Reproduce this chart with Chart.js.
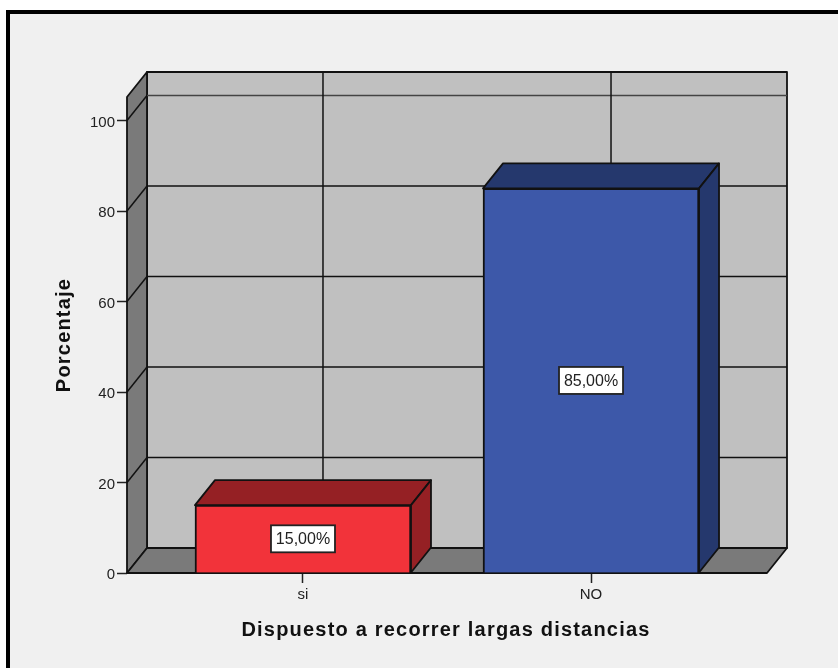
<!DOCTYPE html>
<html lang="es">
<head>
<meta charset="utf-8">
<title>Dispuesto a recorrer largas distancias</title>
<script src="https://cdn.jsdelivr.net/npm/chart.js@4"></script>
<style>
    html, body { margin: 0; padding: 0; background: #fff; overflow: hidden; }
    #frame {
        position: absolute; left: 6px; top: 10px; right: 0; bottom: 0;
        background: #f0f0f0; border-left: 4px solid #000; border-top: 4px solid #000;
    }
    #chart { position: absolute; left: 0; top: 0; }
</style>
</head>
<body>
<div id="frame"></div>
<canvas id="chart" width="838" height="668"></canvas>
<script>
// Chart data
const categories = ['si', 'NO'];
const percentages = [15, 85];
const yTicks = [0, 20, 40, 60, 80, 100];
const xTitle = 'Dispuesto a recorrer largas distancias';
const yTitle = 'Porcentaje';

// Per-bar colours: front face and shaded top/side faces
const barColors = ['#f2333a', '#3d58a9'];
const barShades = ['#952024', '#25386d'];

// Offset of the back of the 3D box
const DEPTH_X = 20;
const DEPTH_Y = 25;

function fillPoly(ctx, points, fill, stroke, lineWidth) {
    ctx.beginPath();
    points.forEach((p, i) => i ? ctx.lineTo(p[0], p[1]) : ctx.moveTo(p[0], p[1]));
    ctx.closePath();
    ctx.fillStyle = fill;
    ctx.fill();
    ctx.strokeStyle = stroke;
    ctx.lineWidth = lineWidth;
    ctx.stroke();
}

function line(ctx, x1, y1, x2, y2, color, lineWidth) {
    ctx.beginPath();
    ctx.moveTo(x1, y1);
    ctx.lineTo(x2, y2);
    ctx.strokeStyle = color;
    ctx.lineWidth = lineWidth;
    ctx.stroke();
}

// Draws the walls, floor and gridlines behind the bars
const boxPlugin = {
    id: 'box3d',
    beforeDatasetsDraw(chart) {
        const { ctx, chartArea: a, scales } = chart;
        const dx = DEPTH_X, dy = DEPTH_Y;
        ctx.save();
        ctx.lineJoin = 'round';

        // Back wall
        fillPoly(ctx, [[a.left + dx, a.top - dy], [a.right + dx, a.top - dy], [a.right + dx, a.bottom - dy], [a.left + dx, a.bottom - dy]], '#c0c0c0', '#111', 1.8);
        // Left wall
        fillPoly(ctx, [[a.left, a.top], [a.left + dx, a.top - dy], [a.left + dx, a.bottom - dy], [a.left, a.bottom]], '#7a7a7a', '#111', 1.8);
        // Floor
        fillPoly(ctx, [[a.left, a.bottom], [a.right, a.bottom], [a.right + dx, a.bottom - dy], [a.left + dx, a.bottom - dy]], '#7a7a7a', '#111', 1.8);

        // Horizontal gridlines, running up the left wall and across the back
        yTicks.forEach(v => {
            if (v === 0) return;
            const y = scales.y.getPixelForValue(v);
            line(ctx, a.left, y, a.left + dx, y - dy, '#111', 1.5);
            line(ctx, a.left + dx, y - dy, a.right + dx, y - dy, v === 100 ? '#444' : '#111', 1.5);
        });

        // Vertical gridlines on the back wall
        categories.forEach((c, i) => {
            const x = scales.x.getPixelForValue(i) + dx;
            line(ctx, x, a.top - dy, x, a.bottom - dy, '#111', 1.5);
        });

        // Top and side faces of the bars
        chart.getDatasetMeta(0).data.forEach((bar, i) => {
            const left = bar.x - bar.width / 2;
            const right = bar.x + bar.width / 2;
            fillPoly(ctx, [[left, bar.y], [left + dx, bar.y - dy], [right + dx, bar.y - dy], [right, bar.y]], barShades[i], '#111', 1.8);
            fillPoly(ctx, [[right, bar.y], [right + dx, bar.y - dy], [right + dx, bar.base - dy], [right, bar.base]], barShades[i], '#111', 1.8);
        });
        ctx.restore();
    },
    afterDatasetsDraw(chart) {
        const { ctx, chartArea: a } = chart;
        ctx.save();

        // Value labels in white boxes at the middle of each bar
        chart.getDatasetMeta(0).data.forEach((bar, i) => {
            const boxW = 64, boxH = 27;
            const cy = (bar.y + bar.base) / 2;
            ctx.fillStyle = '#fff';
            ctx.strokeStyle = '#222';
            ctx.lineWidth = 1.8;
            ctx.fillRect(bar.x - boxW / 2, cy - boxH / 2, boxW, boxH);
            ctx.strokeRect(bar.x - boxW / 2, cy - boxH / 2, boxW, boxH);
            ctx.fillStyle = '#222';
            ctx.font = '16px "Liberation Sans"';
            ctx.textAlign = 'center';
            ctx.textBaseline = 'middle';
            ctx.fillText(percentages[i].toFixed(2).replace('.', ',') + '%', bar.x, cy + 1);
        });

        // Axis titles, drawn here because they are letter-spaced
        ctx.fillStyle = '#111';
        ctx.font = 'bold 20px "Liberation Sans"';
        ctx.letterSpacing = '1.2px';
        ctx.textAlign = 'center';
        ctx.textBaseline = 'middle';
        ctx.fillText(xTitle, (a.left + a.right) / 2 - 1, 630);
        ctx.translate(64, 335);
        ctx.rotate(-Math.PI / 2);
        ctx.fillText(yTitle, 0, 0);
        ctx.restore();
    }
};

new Chart(document.getElementById('chart'), {
    type: 'bar',
    data: {
        datasets: [{
            data: percentages.map((v, i) => ({ x: i, y: v })),
            backgroundColor: barColors,
            borderColor: '#111',
            borderWidth: 2,
            barThickness: 216
        }]
    },
    options: {
        responsive: false,
        animation: false,
        layout: { padding: { top: 97, right: 71 } },
        plugins: { legend: { display: false }, tooltip: { enabled: false } },
        scales: {
            x: {
                type: 'linear',
                offset: false,
                min: -0.611,
                max: 1.611,
                afterFit: scale => { scale.height = 95; },
                afterBuildTicks: scale => { scale.ticks = categories.map((c, i) => ({ value: i })); },
                grid: { offset: false, drawOnChartArea: false, color: '#222', tickLength: 10, tickWidth: 1.5 },
                border: { display: false },
                ticks: {
                    autoSkip: false,
                    maxRotation: 0,
                    padding: 3,
                    color: '#222',
                    font: { family: '"Liberation Sans"', size: 15 },
                    callback: value => categories[value]
                }
            },
            y: {
                min: 0,
                max: 105.2,
                afterFit: scale => { scale.width = 127; },
                afterBuildTicks: scale => { scale.ticks = yTicks.map(v => ({ value: v })); },
                grid: { drawOnChartArea: false, color: '#222', tickLength: 10, tickWidth: 1.5 },
                border: { display: false },
                ticks: {
                    padding: 2,
                    labelOffset: 2,
                    color: '#222',
                    font: { family: '"Liberation Sans"', size: 15 }
                }
            }
        }
    },
    plugins: [boxPlugin]
});
</script>
</body>
</html>
